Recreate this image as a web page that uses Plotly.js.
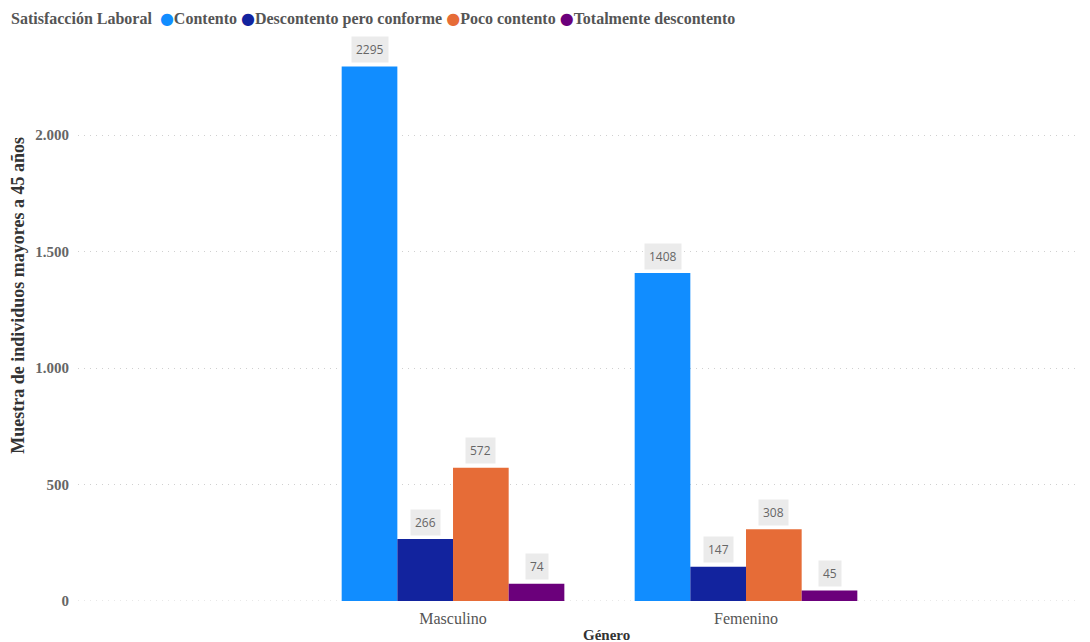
<!DOCTYPE html>
<html>
<head>
<meta charset="utf-8">
<script src="https://cdn.plot.ly/plotly-3.0.1.min.js"></script>
<style>html,body{margin:0;padding:0;background:#fff}#chart{width:1090px;height:642px}</style>
</head>
<body>
<div id="chart"></div>
<script>
const categories = ["Masculino", "Femenino"];
const seriesNames = ["Contento", "Descontento pero conforme", "Poco contento", "Totalmente descontento"];
const contento = [2295, 1408];
const descontentoConforme = [266, 147];
const pocoContento = [572, 308];
const totalmenteDescontento = [74, 45];
const seriesColors = ["#118DFF", "#12239E", "#E66C37", "#6B007B"];
const legendTitle = "Satisfacción Laboral";
const xTitle = "Género";
const yTitle = "Muestra de individuos mayores a 45 años";

const seriesValues = [contento, descontentoConforme, pocoContento, totalmenteDescontento];
const catIdx = categories.map((c, i) => i);
const bargap = 0.24;
const nSeries = seriesValues.length;
const barW = (1 - bargap) / nSeries;

const traces = seriesValues.map((vals, j) => ({
  type: "bar",
  name: seriesNames[j],
  x: catIdx,
  y: vals,
  marker: {color: seriesColors[j]},
  showlegend: false,
  hoverinfo: "y"
}));

const serif = "Liberation Serif, Times New Roman, serif";
const annotations = [];
seriesValues.forEach((vals, j) => {
  vals.forEach((v, i) => {
    annotations.push({
      x: i + (j - (nSeries - 1) / 2) * barW,
      y: v,
      xref: "x", yref: "y",
      text: String(v),
      showarrow: false,
      yshift: 17,
      bgcolor: "#EBEBEB",
      borderpad: 4,
      font: {family: "Open Sans, sans-serif", size: 12, color: "#666666"}
    });
  });
});

// legend built from series names and colours
const legendText = "<b>" + legendTitle + "</b>  " + seriesNames.map((n, j) =>
  "<span style='color:" + seriesColors[j] + "; font-family:DejaVu Sans'>●</span><b>" + n + "</b>").join(" ");
annotations.push({
  xref: "paper", yref: "paper",
  x: 0, xshift: -69, y: 1, yshift: 24,
  xanchor: "left", yanchor: "middle",
  text: legendText, showarrow: false,
  font: {family: serif, size: 16, color: "#555555"}
});
annotations.push({
  xref: "paper", yref: "paper",
  x: 0.527, y: 0, yshift: -34,
  xanchor: "center", yanchor: "middle",
  text: xTitle, showarrow: false,
  font: {family: serif, size: 15, color: "#333333", weight: "bold"}
});
annotations.push({
  xref: "paper", yref: "paper",
  x: 0, xshift: -60, y: 0.546,
  xanchor: "center", yanchor: "middle",
  textangle: -90,
  text: yTitle, showarrow: false,
  font: {family: serif, size: 18, color: "#333333", weight: "bold"}
});

const layout = {
  width: 1090, height: 642,
  margin: {l: 78, r: 10, t: 42, b: 41},
  paper_bgcolor: "#ffffff",
  plot_bgcolor: "#ffffff",
  separators: ",.",
  barmode: "group",
  bargap: bargap,
  bargroupgap: 0,
  showlegend: false,
  xaxis: {
    tickmode: "array",
    tickvals: catIdx,
    ticktext: categories,
    range: [-1.28, 2.14],
    showgrid: false,
    zeroline: false,
    showline: false,
    ticks: "",
    ticklabelstandoff: 6,
    tickfont: {family: serif, size: 16, color: "#555555"}
  },
  yaxis: {
    range: [0, 2400],
    tickvals: [0, 500, 1000, 1500, 2000],
    tickformat: ",d",
    showgrid: true,
    gridcolor: "#D0D0D0",
    griddash: "1px,5px",
    gridwidth: 1,
    zeroline: false,
    showline: false,
    ticks: "",
    ticklabelstandoff: 8,
    tickfont: {family: serif, size: 15, color: "#666666", weight: "bold"}
  },
  shapes: [{
    type: "line", xref: "paper", yref: "y",
    x0: 0, x1: 1, y0: 0, y1: 0,
    line: {color: "#D0D0D0", width: 1, dash: "1px,5px"},
    layer: "below"
  }],
  annotations: annotations
};

Plotly.newPlot("chart", traces, layout, {displayModeBar: false, staticPlot: true});
</script>
</body>
</html>
